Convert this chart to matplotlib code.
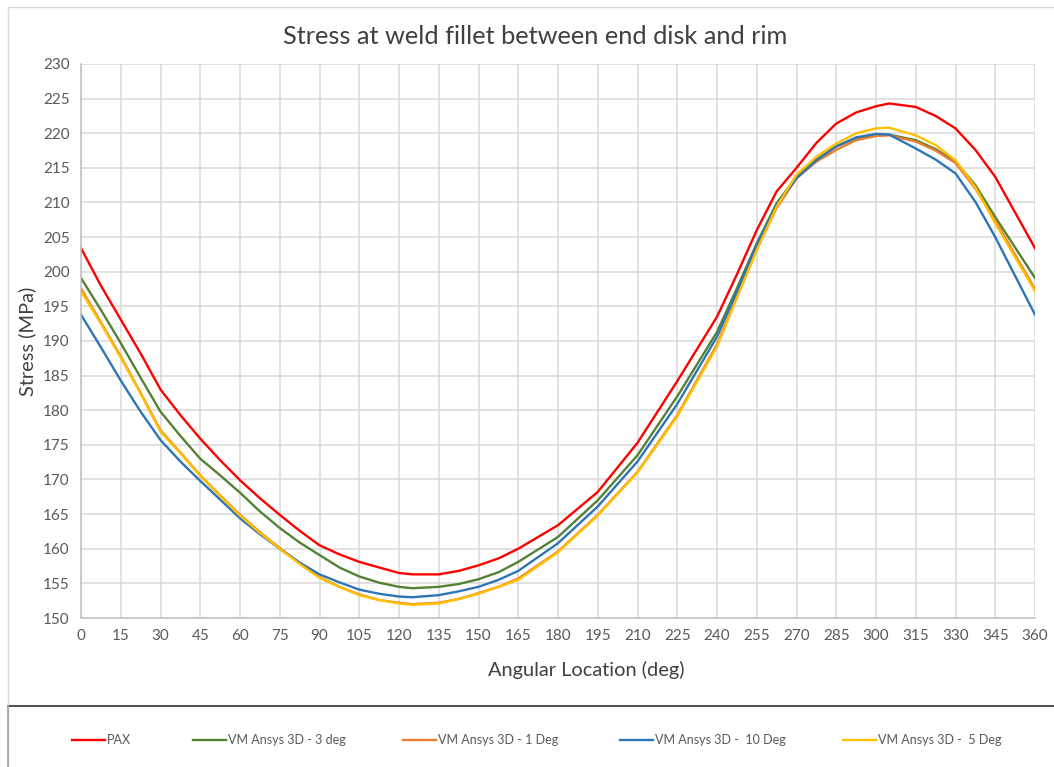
import matplotlib
matplotlib.use("Agg")
import matplotlib.pyplot as plt
from matplotlib import font_manager
from matplotlib.lines import Line2D

# angular location (deg) and stress (MPa)
angles = [0, 7.5, 15, 22.5, 30, 37.5, 45, 52.5, 60, 67.5, 75, 82.5, 90, 97.5, 105,
          112.5, 120, 125, 135, 142.5, 150, 157.5, 165, 180, 195, 210, 225, 240,
          247.5, 255, 262.5, 270, 277.5, 285, 292.5, 300, 305, 315, 322.5, 330,
          337.5, 345, 360]

pax = [203.4, 198.0, 193.1, 188.2, 183.0, 179.3, 175.9, 172.8, 169.9, 167.3,
       164.9, 162.6, 160.5, 159.2, 158.1, 157.3, 156.5, 156.3, 156.3, 156.8,
       157.6, 158.6, 160.0, 163.4, 168.2, 175.3, 184.2, 193.5, 199.6, 206.0,
       211.6, 215.0, 218.6, 221.4, 223.0, 223.9, 224.3, 223.8, 222.5, 220.7,
       217.6, 213.7, 203.4]
vm_3deg = [199.1, 194.5, 189.7, 184.7, 179.8, 176.3, 173.0, 170.6, 168.1, 165.4,
           163.0, 160.9, 159.1, 157.3, 156.0, 155.1, 154.5, 154.3, 154.5, 154.9,
           155.6, 156.6, 158.1, 161.7, 167.0, 173.5, 182.0, 191.3, 197.6, 204.1,
           209.9, 213.7, 216.2, 218.1, 219.3, 219.8, 219.8, 219.0, 217.7, 215.9,
           212.5, 207.9, 199.1]
vm_1deg = [197.6, 192.7, 187.8, 182.5, 177.1, 173.9, 170.6, 167.7, 164.9, 162.4,
           160.1, 157.9, 155.9, 154.5, 153.4, 152.6, 152.2, 152.0, 152.2, 152.75,
           153.6, 154.5, 155.7, 159.6, 164.9, 171.1, 179.3, 189.5, 196.4, 203.2,
           209.2, 213.5, 215.9, 217.6, 219.0, 219.6, 219.7, 218.8, 217.5, 215.7,
           212.0, 207.4, 197.5]
vm_10deg = [193.8, 189.1, 184.3, 179.8, 175.7, 172.6, 169.8, 167.1, 164.4, 162.1,
            160.0, 158.0, 156.3, 155.15, 154.1, 153.5, 153.1, 153.0, 153.3, 153.85,
            154.5, 155.5, 156.8, 160.8, 166.1, 172.6, 180.9, 190.6, 197.1, 203.9,
            209.6, 213.5, 216.1, 218.1, 219.4, 219.9, 219.8, 217.8, 216.2, 214.2,
            210.1, 205.0, 193.8]
vm_5deg = [197.2, 192.5, 187.6, 182.4, 176.9, 173.8, 170.5, 167.6, 164.8, 162.3,
           160.0, 157.8, 155.8, 154.5, 153.3, 152.6, 152.1, 151.9, 152.1, 152.75,
           153.5, 154.5, 155.5, 159.5, 164.8, 171.0, 179.1, 189.2, 196.2, 203.1,
           209.4, 214.0, 216.6, 218.5, 220.0, 220.7, 220.8, 219.7, 218.3, 216.1,
           212.2, 207.0, 197.2]

series = [
    ("PAX", pax, "#FF0000"),
    ("VM Ansys 3D - 3 deg", vm_3deg, "#548235"),
    ("VM Ansys 3D - 1 Deg", vm_1deg, "#ED7D31"),
    ("VM Ansys 3D -  10 Deg", vm_10deg, "#2E75B6"),
    ("VM Ansys 3D -  5 Deg", vm_5deg, "#FFC000"),
]
legend_x = [72, 193, 403, 620, 843]  # pixel start of each legend entry

installed = {f.name for f in font_manager.fontManager.ttflist}
main_font = "Lato" if "Lato" in installed else "DejaVu Sans"
narrow_font = "Liberation Sans Narrow" if "Liberation Sans Narrow" in installed else main_font
plt.rcParams['font.family'] = [main_font, 'DejaVu Sans']

W, H = 1054, 767
fig = plt.figure(figsize=(W / 100, H / 100), dpi=100)
ax = fig.add_axes([81 / W, 1 - 618 / H, 954 / W, 554 / H])

lines = []
for name, vals, col in series:
    ln, = ax.plot(angles, vals, color=col, lw=1.7, label=name, solid_joinstyle="round")
    lines.append(ln)

ax.set_xlim(0, 360)
ax.set_ylim(150, 230)
ax.set_xticks(range(0, 361, 15))
ax.set_yticks(range(150, 231, 5))
ax.grid(True, color="#d9d9d9", lw=1.1)
ax.set_axisbelow(True)
for s in ["top", "right"]:
    ax.spines[s].set_visible(False)
for s in ["left", "bottom"]:
    ax.spines[s].set_color("#bfbfbf")
    ax.spines[s].set_linewidth(1.1)
ax.tick_params(length=0, labelsize=11, labelcolor="#595959", pad=8)

fig.text(535 / W, 1 - 37 / H, "Stress at weld fillet between end disk and rim",
         ha="center", va="center", fontsize=18.3, color="#404040")
fig.text(586 / W, 1 - 670 / H, "Angular Location (deg)", ha="center", va="center",
         fontsize=14.4, color="#404040")
fig.text(27 / W, 1 - 341 / H, "Stress (MPa)", ha="center", va="center",
         rotation=90, fontsize=14.4, color="#404040")

# chart border and legend separator
fig.add_artist(Line2D([8 / W, 8 / W, 1.0], [0, 1 - 7 / H, 1 - 7 / H],
                      transform=fig.transFigure, color="#d9d9d9", lw=1))
fig.add_artist(Line2D([8 / W, 1.0], [1 - 706 / H, 1 - 706 / H],
                      transform=fig.transFigure, color="#404040", lw=1.3))
fig.add_artist(Line2D([8 / W, 8 / W], [0, 1 - 706 / H],
                      transform=fig.transFigure, color="#a6a6a6", lw=1.3))

for ln, (name, _, _), lx in zip(lines, series, legend_x):
    fig.legend([ln], [name], loc="center left", bbox_to_anchor=(lx / W, 1 - 740 / H),
               frameon=False, borderpad=0, borderaxespad=0, handlelength=2.6,
               handletextpad=0.2, prop={"family": narrow_font, "size": 9},
               labelcolor="#595959")

fig.savefig("out.png", dpi=100)
